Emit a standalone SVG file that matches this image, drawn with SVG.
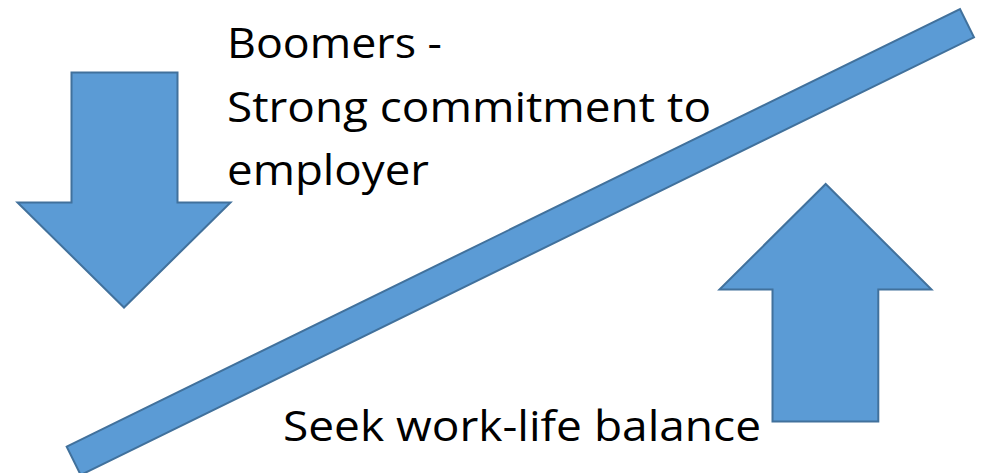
<svg xmlns="http://www.w3.org/2000/svg" width="985" height="473" viewBox="0 0 985 473">
  <style>
    .shape { fill: #5B9BD5; stroke: #41719C; stroke-width: 2; stroke-linejoin: miter; }
    .label { font-family: "Open Sans", "Liberation Sans", sans-serif; font-size: 42px; fill: #000000; }
  </style>
  <rect width="985" height="473" fill="#FFFFFF"/>

  <!-- diagonal balance bar -->
  <g id="bar">
    <polygon class="shape" points="66.7,446.7 960,9 974,37.3 80.7,475"/>
  </g>

  <!-- down arrow on the left -->
  <g id="arrow-down">
    <polygon class="shape" points="71.5,72.5 177.5,72.5 177.5,202.5 230.5,202.5 124,307.5 17.5,202.5 71.5,202.5"/>
  </g>

  <!-- up arrow on the right -->
  <g id="arrow-up">
    <polygon class="shape" points="825.7,184 931.5,289.5 878.3,289.5 878.3,421.5 772.5,421.5 772.5,289.5 719.5,289.5"/>
  </g>

  <g id="label-boomers">
    <text class="label" x="227" y="58.3" textLength="215" lengthAdjust="spacingAndGlyphs">Boomers -</text>
    <text class="label" x="227" y="121.7" textLength="484" lengthAdjust="spacingAndGlyphs">Strong commitment to</text>
    <text class="label" x="227" y="185" textLength="202" lengthAdjust="spacingAndGlyphs">employer</text>
  </g>

  <g id="label-balance">
    <text class="label" x="283" y="440.7" textLength="478" lengthAdjust="spacingAndGlyphs">Seek work-life balance</text>
  </g>
</svg>
